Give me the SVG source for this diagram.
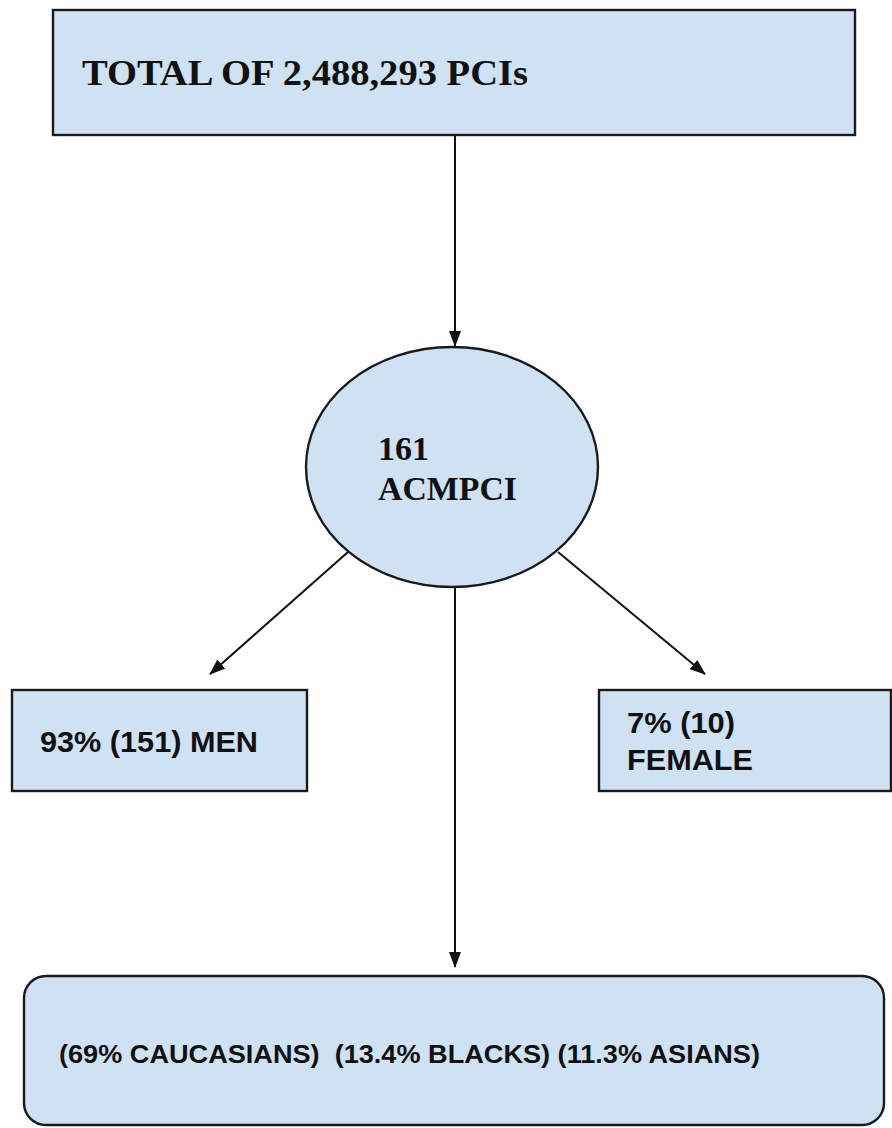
<svg xmlns="http://www.w3.org/2000/svg" width="892" height="1128" viewBox="0 0 892 1128">
<style>
.box{fill:#cfe2f3;stroke:#1a1a1a;stroke-width:2.4}
.serif{font-family:"Liberation Serif",serif;font-weight:bold;fill:#111}
.sans{font-family:"Liberation Sans",Arial,sans-serif;font-weight:bold;fill:#111}
.conn{stroke:#111;stroke-width:2;fill:none;marker-end:url(#ah)}
</style>
<defs>
<marker id="ah" markerWidth="16" markerHeight="12" refX="15" refY="6" orient="auto" markerUnits="userSpaceOnUse">
<path d="M0,0 L16,6 L0,12 Z" fill="#111"/>
</marker>
</defs>
<rect width="892" height="1128" fill="#fff"/>
<g id="connectors">
<line class="conn" x1="455" y1="135" x2="455" y2="346"/>
<line class="conn" x1="348" y1="552" x2="210" y2="674"/>
<line class="conn" x1="558" y1="552" x2="705" y2="674"/>
<line class="conn" x1="455" y1="587" x2="455" y2="967"/>
</g>
<g id="total">
<rect class="box" x="53" y="10" width="802" height="125"/>
<text class="serif" x="82" y="85" font-size="35" textLength="446" lengthAdjust="spacingAndGlyphs">TOTAL OF 2,488,293 PCIs</text>
</g>
<g id="acmpci">
<ellipse class="box" cx="452" cy="467" rx="146" ry="120"/>
<text class="serif" x="378" y="460" font-size="34">161</text>
<text class="serif" x="378" y="500" font-size="34" textLength="139" lengthAdjust="spacingAndGlyphs">ACMPCI</text>
</g>
<g id="men">
<rect class="box" x="12" y="690" width="295" height="101"/>
<text class="sans" x="40" y="752" font-size="30" textLength="218" lengthAdjust="spacingAndGlyphs">93% (151) MEN</text>
</g>
<g id="female">
<rect class="box" x="599" y="690" width="292" height="101"/>
<text class="sans" x="627" y="733" font-size="29" textLength="108" lengthAdjust="spacingAndGlyphs">7% (10)</text>
<text class="sans" x="627" y="770" font-size="29" textLength="126" lengthAdjust="spacingAndGlyphs">FEMALE</text>
</g>
<g id="ethnicity">
<rect class="box" x="24" y="976" width="860" height="149" rx="22"/>
<text class="sans" x="59" y="1063" font-size="25" textLength="701" lengthAdjust="spacingAndGlyphs" xml:space="preserve">(69% CAUCASIANS)  (13.4% BLACKS) (11.3% ASIANS)</text>
</g>
</svg>
